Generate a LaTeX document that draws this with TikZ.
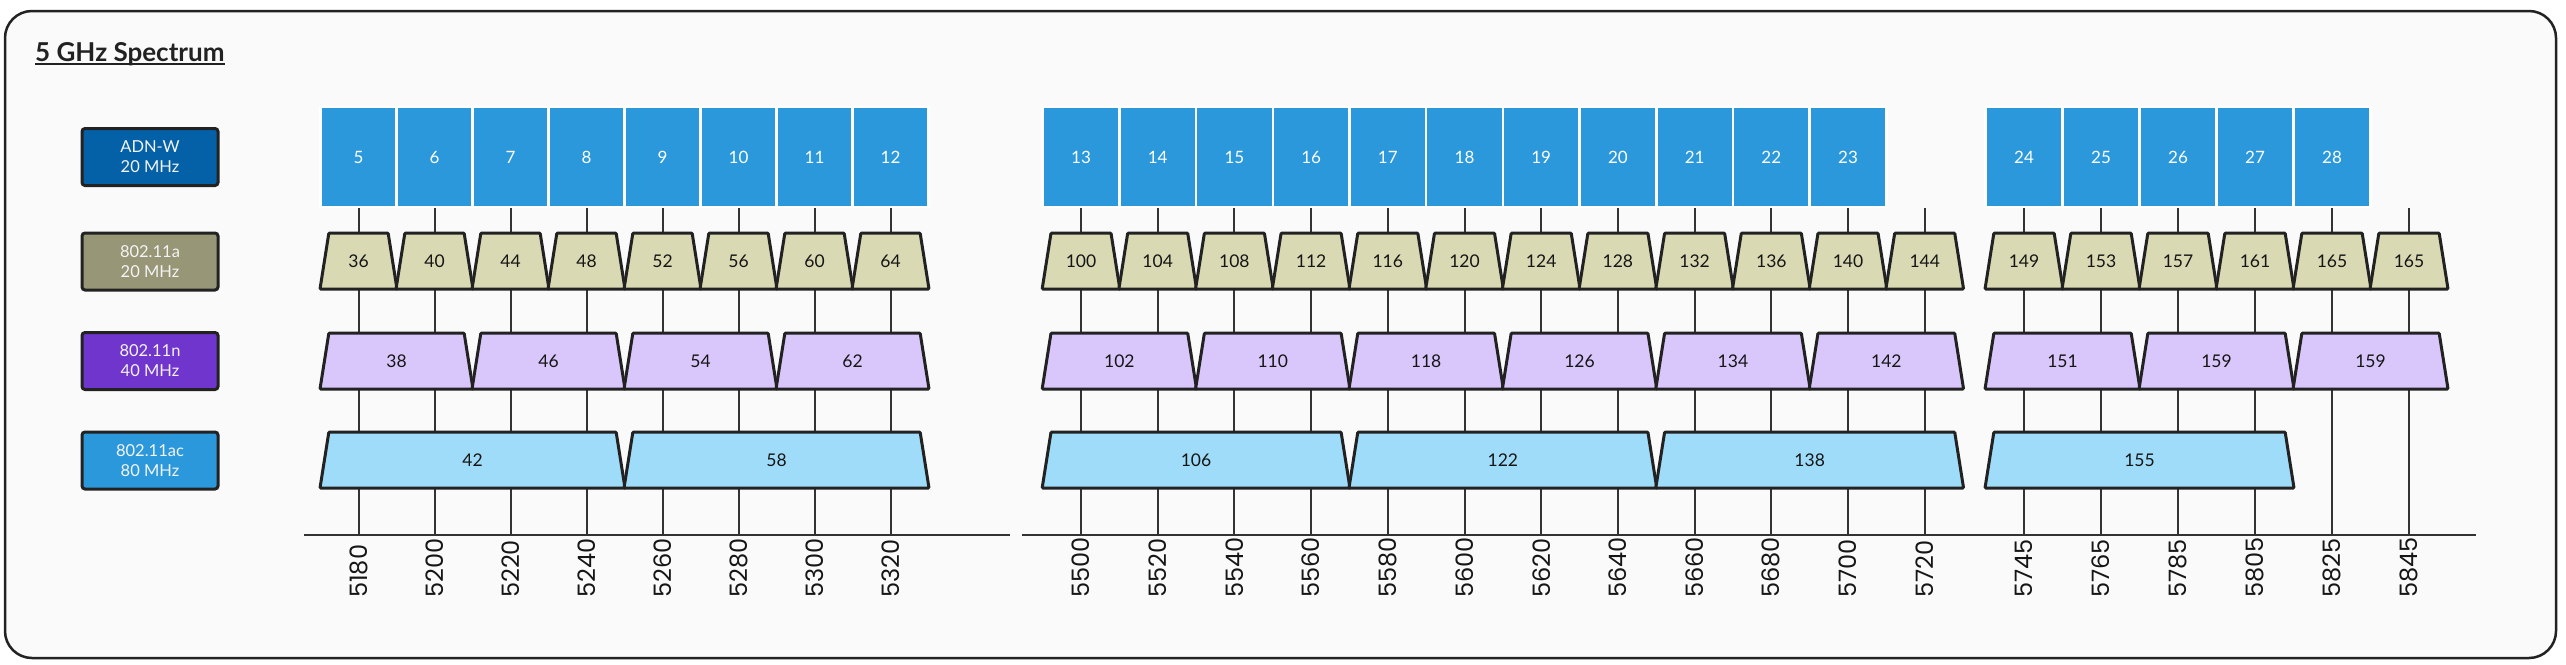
\documentclass[tikz,border=0pt]{standalone}
\usepackage{fontspec}
\setmainfont{Lato}
\newfontfamily\popp{Poppins}
\usetikzlibrary{shapes.geometric,calc}
\pgfdeclarelayer{bg}
\pgfsetlayers{bg,main}
\definecolor{strokecol}{HTML}{222222}
\definecolor{linecol}{HTML}{333333}
\definecolor{textcol}{HTML}{161616}
\definecolor{pagebg}{HTML}{FAFAFA}
\definecolor{chblue}{HTML}{2B98DC}
\definecolor{adnw}{HTML}{0461A8}
\definecolor{olive}{HTML}{979677}
\definecolor{purp}{HTML}{7035CC}
\definecolor{acblue}{HTML}{2B98DC}
\definecolor{fillA}{HTML}{D9D9B3}
\definecolor{fillN}{HTML}{D9C7FC}
\definecolor{fillAC}{HTML}{9FDCF9}
\definecolor{lbltext}{HTML}{F4F4F4}
\begin{document}
\begin{tikzpicture}[x=1pt,y=-1pt,
  conn/.style={draw=linecol, line width=2pt},
  topbox/.style={rectangle, fill=chblue, draw=white, line width=2.5pt, minimum height=100pt, inner sep=0pt, text=white, font=\fontsize{17}{20}\selectfont},
  trap/.style={trapezium, trapezium left angle=81, trapezium right angle=81, trapezium stretches body, draw=strokecol, line width=3pt, rounded corners=1pt, text height=12.6pt, text depth=0pt, inner xsep=0pt, inner ysep=21.7pt, text=textcol, font=\fontsize{17.5}{20}\selectfont},
  cA/.style={trap, fill=fillA},
  cN/.style={trap, fill=fillN},
  cAC/.style={trap, fill=fillAC},
  lbl/.style={rectangle, rounded corners=3pt, draw=strokecol, line width=3pt, minimum width=136pt, minimum height=57pt, align=center, inner sep=0pt, text=lbltext, font=\fontsize{16.5}{20}\selectfont},
  freq/.style={rotate=90, anchor=west, inner sep=0pt, text=textcol, font=\popp\fontsize{24}{28}\selectfont},
  axisline/.style={draw=linecol, line width=2.5pt}
]
\useasboundingbox (0,0) rectangle (2566,664);
\begin{pgfonlayer}{bg}
  \fill[white] (0,0) rectangle (2566,664);
  \draw[fill=pagebg, draw=strokecol, line width=2.5pt, rounded corners=27pt] (5,11) rectangle (2556,658);
\end{pgfonlayer}

% title
\node[anchor=base west, inner sep=0pt, text=strokecol, font=\bfseries\fontsize{26}{30}\selectfont] (title) at (35,61) {5 GHz Spectrum};
\draw[strokecol, line width=2pt] ([yshift=-2.5pt]title.base west) -- ([yshift=-2.5pt]title.base east);

% legend boxes
\node[lbl, fill=adnw] (lW) at (150,157) {ADN-W\\20 MHz};
\node[lbl, fill=olive] (lA) at (150,261.5) {802.11a\\20 MHz};
\node[lbl, fill=purp] (lN) at (150,361) {802.11n\\40 MHz};
\node[lbl, fill=acblue] (lAC) at (150,460.5) {802.11ac\\80 MHz};

% channels with an ADN-W box
\foreach \f/\x/\p/\c/\w in {
  5180/358.5/76/36/5, 5200/434.5/76/40/6, 5220/510.5/76/44/7, 5240/586.5/76/48/8,
  5260/662.5/76/52/9, 5280/738.5/76/56/10, 5300/814.5/76/60/11, 5320/890.5/76/64/12,
  5500/1081/76.7/100/13, 5520/1157.7/76.7/104/14, 5540/1234.4/76.7/108/15, 5560/1311.1/76.7/112/16,
  5580/1387.8/76.7/116/17, 5600/1464.5/76.7/120/18, 5620/1541.2/76.7/124/19, 5640/1617.9/76.7/128/20,
  5660/1694.6/76.7/132/21, 5680/1771.3/76.7/136/22, 5700/1848/76.7/140/23,
  5745/2024/77/149/24, 5765/2101/77/153/25, 5785/2178/77/157/26, 5805/2255/77/161/27, 5825/2332/77/165/28}{
  \coordinate (x\f) at (\x,535);
  \node[freq] (q\f) at (\x,598) {\f};
  \node[cA, minimum width={\p pt+1pt}] (a\f) at (\x,261) {\c};
  \node[topbox, minimum width=\p pt] (w\f) at (\x,157) {\w};
  \begin{pgfonlayer}{bg}
    \draw[conn] (w\f.south) -- (x\f);
  \end{pgfonlayer}
}
% channels without an ADN-W box
\foreach \f/\x/\p/\c in {5720/1924.7/76.7/144, 5845/2409/77/165}{
  \coordinate (x\f) at (\x,535);
  \coordinate (e\f) at (\x,208);
  \node[freq] (q\f) at (\x,598) {\f};
  \node[cA, minimum width={\p pt+1pt}] (a\f) at (\x,261) {\c};
  \begin{pgfonlayer}{bg}
    \draw[conn] (e\f) -- (x\f);
  \end{pgfonlayer}
}

% 40 MHz
\foreach \n/\a/\b/\p in {38/5180/5200/76, 46/5220/5240/76, 54/5260/5280/76, 62/5300/5320/76,
  102/5500/5520/76.7, 110/5540/5560/76.7, 118/5580/5600/76.7, 126/5620/5640/76.7, 134/5660/5680/76.7, 142/5700/5720/76.7,
  151/5745/5765/77, 159/5785/5805/77}{
  \node[cN, minimum width={2*\p pt+1pt}] (n\a) at ($(x\a)!0.5!(x\b)+(0,-174)$) {\n};
}
\node[cN, minimum width={2*77pt+1pt}] (n5825) at ($(x5825)!0.5!(x5845)+(0,-174)$) {159};

% 80 MHz
\foreach \n/\a/\b/\p in {42/5180/5240/76, 58/5260/5320/76,
  106/5500/5560/76.7, 122/5580/5640/76.7, 138/5660/5720/76.7, 155/5745/5805/77}{
  \node[cAC, minimum width={4*\p pt+1pt}] (v\a) at ($(x\a)!0.5!(x\b)+(0,-75)$) {\n};
}

% frequency axis
\coordinate (axA) at (304,535);
\coordinate (axB) at (1010,535);
\coordinate (axC) at (1022,535);
\coordinate (axD) at (2476,535);
\draw[axisline] (axA) -- (axB);
\draw[axisline] (axC) -- (axD);
\end{tikzpicture}
\end{document}
